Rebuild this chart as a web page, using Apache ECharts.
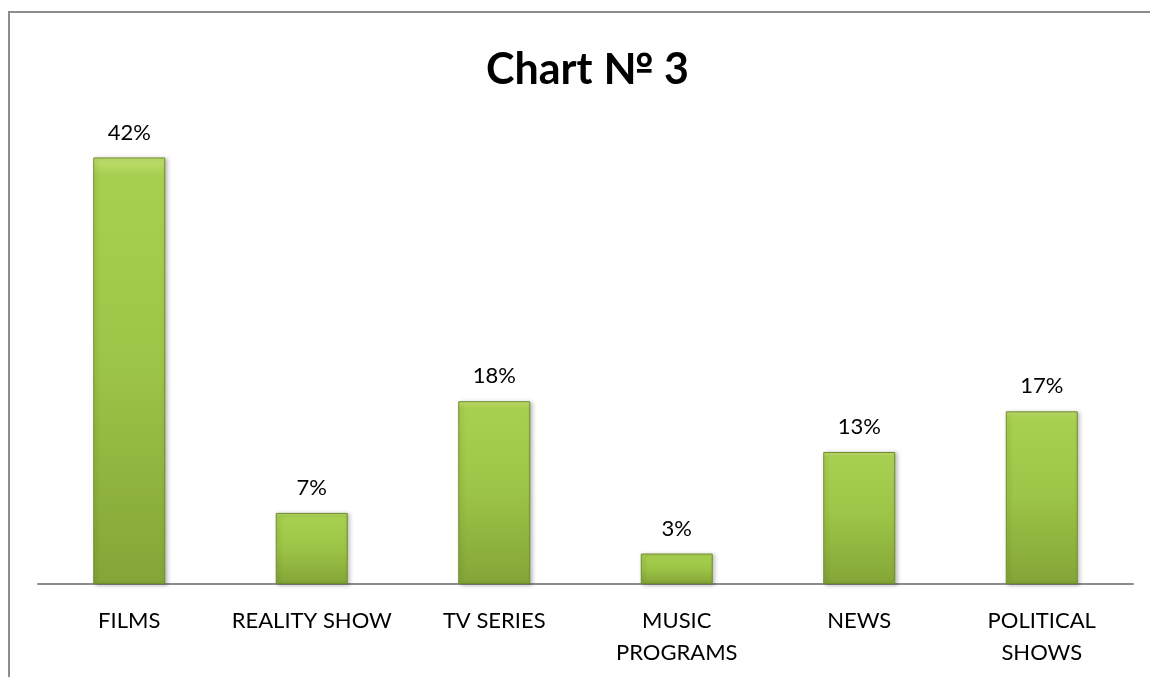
<!DOCTYPE html>
<html>
<head>
<meta charset="utf-8">
<style>
  html, body { margin: 0; padding: 0; background: #ffffff; }
  #chart { width: 1150px; height: 677px; }
</style>
<script src="https://cdn.jsdelivr.net/npm/echarts@6/dist/echarts.min.js"></script>
</head>
<body>
<div id="chart"></div>
<script>
// Share of viewers by programme type (%)
const categories = ['FILMS', 'REALITY SHOW', 'TV SERIES', 'MUSIC\nPROGRAMS', 'NEWS', 'POLITICAL\nSHOWS'];
const shares = [42, 7, 18, 3, 13, 17];

const chart = echarts.init(document.getElementById('chart'));

const barFill = new echarts.graphic.LinearGradient(0, 0, 0, 1, [
  { offset: 0, color: '#c2e070' },
  { offset: 0.04, color: '#a8d050' },
  { offset: 0.5, color: '#9cc446' },
  { offset: 1, color: '#84a537' }
]);

chart.setOption({
  backgroundColor: '#ffffff',
  animation: false,
  title: {
    text: 'Chart № 3',
    left: 481,
    top: 44,
    textStyle: {
      fontFamily: 'Lato',
      fontWeight: 'bold',
      fontSize: 43,
      color: '#000000'
    }
  },
  graphic: [{
    type: 'rect',
    shape: { x: 9, y: 12, width: 1160, height: 700 },
    style: { fill: 'none', stroke: '#8c8c8c', lineWidth: 2 },
    silent: true,
    z: -1
  }],
  grid: { left: 38, right: 17, top: 127, bottom: 93 },
  xAxis: {
    type: 'category',
    data: categories,
    axisLine: { lineStyle: { color: '#8c8c8c', width: 2 } },
    axisTick: { show: false },
    axisLabel: {
      margin: 21,
      fontFamily: 'Lato',
      fontSize: 22,
      lineHeight: 32,
      color: '#000000',
      interval: 0
    }
  },
  yAxis: {
    type: 'value',
    min: 0,
    max: 45,
    show: false,
    splitLine: { show: false }
  },
  series: [{
    type: 'bar',
    data: shares,
    barWidth: 72,
    itemStyle: {
      color: barFill,
      borderColor: '#6f8c2a',
      borderWidth: 1,
      shadowColor: 'rgba(0,0,0,0.25)',
      shadowBlur: 4,
      shadowOffsetX: 2,
      shadowOffsetY: 1
    },
    label: {
      show: true,
      position: 'top',
      distance: 14,
      formatter: '{c}%',
      fontFamily: 'Lato',
      fontSize: 22,
      color: '#000000'
    }
  }]
});
</script>
</body>
</html>
